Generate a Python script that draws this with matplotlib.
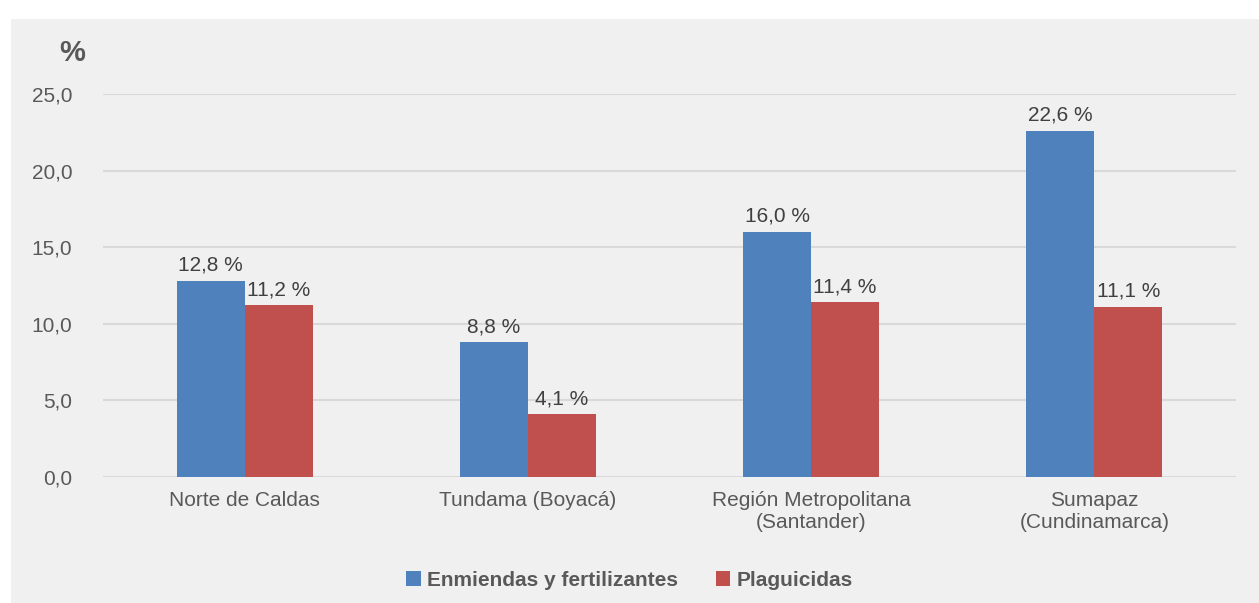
import matplotlib.pyplot as plt
import matplotlib as mpl
import numpy as np
from matplotlib.patches import Rectangle

categorias = ['Norte de Caldas', 'Tundama (Boyacá)',
              'Región Metropolitana\n(Santander)', 'Sumapaz\n(Cundinamarca)']
enmiendas = [12.8, 8.8, 16.0, 22.6]
plaguicidas = [11.2, 4.1, 11.4, 11.1]
series = ['Enmiendas y fertilizantes', 'Plaguicidas']
colores = ['#4f81bd', '#c0504d']
yticks = [0, 5, 10, 15, 20, 25]

plt.rcParams['font.family'] = ['Liberation Sans', 'DejaVu Sans']

fig = plt.figure(figsize=(12.59, 6.03), dpi=100)
fig.patch.set_facecolor('white')
# fondo gris del panel
fig.patches.append(Rectangle((11 / 1259, 0), 1 - 11 / 1259, 1 - 19 / 603,
                             transform=fig.transFigure, facecolor='#f0f0f0',
                             edgecolor='none', zorder=-10))

ax = fig.add_axes([103 / 1259, 126 / 603, 1133 / 1259, 383 / 603])
ax.set_facecolor('none')

x = np.arange(len(categorias))
w = 0.24
b1 = ax.bar(x - w / 2, enmiendas, w, color=colores[0], label=series[0], zorder=3)
b2 = ax.bar(x + w / 2, plaguicidas, w, color=colores[1], label=series[1], zorder=3)

for bars in (b1, b2):
    for r in bars:
        v = r.get_height()
        ax.text(r.get_x() + r.get_width() / 2, v + 0.4,
                f'{v:.1f} %'.replace('.', ','), ha='center', va='bottom',
                fontsize=15, color='#404040')

ax.set_xlim(-0.5, 3.5)
ax.set_ylim(0, 25)
ax.set_yticks(yticks)
ax.set_yticklabels([f'{t:.1f}'.replace('.', ',') for t in yticks])
ax.set_xticks(x)
ax.set_xticklabels(categorias)
ax.tick_params(axis='both', length=0, labelsize=15, labelcolor='#595959')
ax.tick_params(axis='y', pad=22)
ax.tick_params(axis='x', pad=10)
ax.grid(axis='y', color='#d9d9d9', linewidth=1.5, zorder=0)
for s in ax.spines.values():
    s.set_visible(False)

fig.text(72 / 1259, 1 - 53 / 603, '%', ha='center', va='center',
         fontsize=21, fontweight='bold', color='#595959')

fig.legend(loc='center', bbox_to_anchor=(0.5, 1 - 580 / 603), ncol=2,
           frameon=False, prop={'size': 15, 'weight': 'bold'},
           labelcolor='#595959', handlelength=0.7, handleheight=0.7,
           handletextpad=0.3, columnspacing=1.8)

fig.savefig('out.png', dpi=100)
